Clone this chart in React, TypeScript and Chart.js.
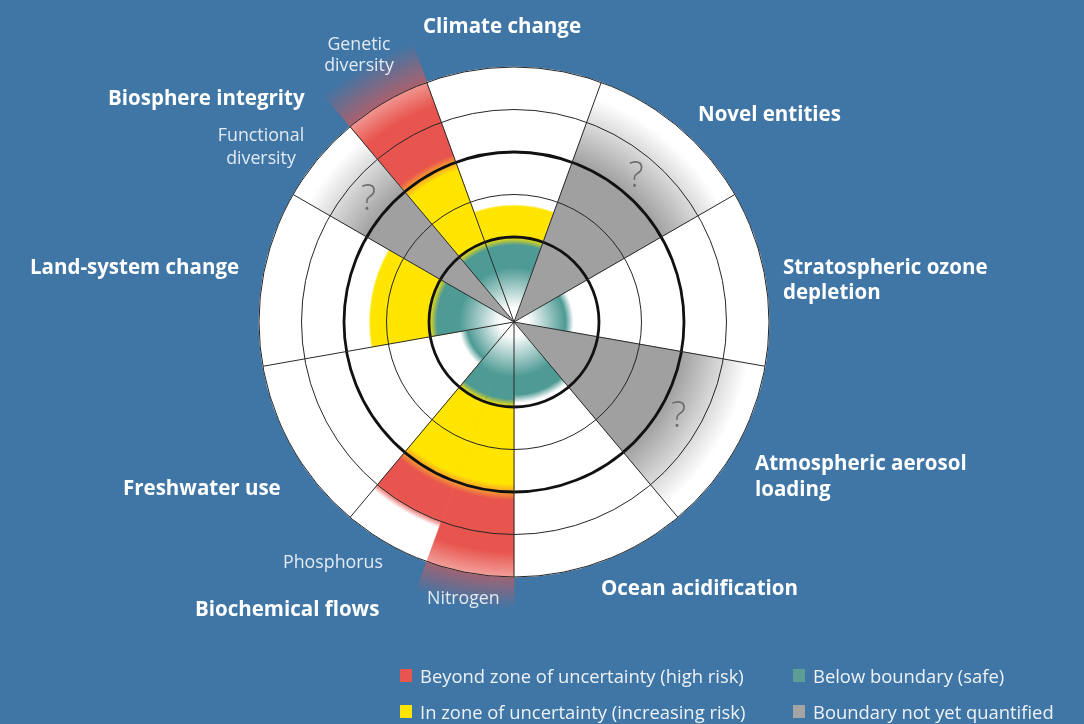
import React, { useEffect, useRef } from "react";
import { Chart, registerables } from "chart.js";

Chart.register(...registerables);

// ---------- data (units: control variable, 2 = boundary, 4 = top of zone of uncertainty) ----------
const categories = [
  "Climate change",
  "Novel entities",
  "Stratospheric ozone depletion",
  "Atmospheric aerosol loading",
  "Ocean acidification",
  "Nitrogen",
  "Phosphorus",
  "Freshwater use",
  "Land-system change",
  "Functional diversity",
  "Genetic diversity",
];
// width of each category in 20-degree slots
const spanSlots = [2, 2, 2, 2, 2, 1, 1, 2, 2, 1, 1];
// divider line at the start of the category
const leadingDivider = [1, 1, 1, 1, 1, 1, 0, 1, 1, 1, 1];
const safeValues = [2, 0, 1.4, 0, 1.9, 2, 2, 1.3, 2, 0, 2];
const uncertaintyValues = [2.75, 0, 0, 0, 0, 4, 4, 0, 3.4, 0, 4];
const highRiskValues = [0, 0, 0, 0, 0, 6.75, 5.15, 0, 0, 0, 7];
const unquantifiedValues = [0, 5.6, 0, 5.6, 0, 0, 0, 0, 0, 5.6, 0];
const ringTicks = [0, 2, 3, 4, 5, 6];
const boundaryRings = [2, 4];
const scaleMax = 6;
const questionMarkValue = 4.47;
const slotDegrees = 20;

// ---------- derived slot table (the radial scale is split in 20-degree slots) ----------
const slotCategory: number[] = categories.flatMap((_, i) => Array(spanSlots[i]).fill(i));
const slotLabels = slotCategory.map((i) => categories[i]);
const firstSlot = categories.map((_, i) => spanSlots.slice(0, i).reduce((a, b) => a + b, 0));
const dividerSlots = firstSlot.filter((_, i) => leadingDivider[i]);

// ---------- styles ----------
const BG = "#3f76a6";
const TEAL = [78, 154, 148];
const YELLOW = [255, 229, 0];
const RED = [232, 85, 78];
const ORANGE = [247, 160, 45];
const GRAY = [160, 160, 160];
const rgba = (c: number[], a: number) => `rgba(${c[0]},${c[1]},${c[2]},${a})`;
const NONE = "rgba(0,0,0,0)";

function radialFill(chart: any, stops: [number, string][]) {
  const s = chart.scales && chart.scales.r;
  if (!s || !s.drawingArea) return NONE;
  const outer = Math.max(1, stops[stops.length - 1][0]);
  const g = chart.ctx.createRadialGradient(s.xCenter, s.yCenter, 0, s.xCenter, s.yCenter, outer);
  let last = 0;
  for (const [r, c] of stops) {
    const p = Math.min(1, Math.max(last, r / outer));
    g.addColorStop(p, c);
    last = p;
  }
  return g;
}

const dist = (chart: any, v: number) => chart.scales.r.getDistanceFromCenterForValue(v);

function tealFill(ctx: any) {
  if (ctx.dataIndex === undefined) return NONE;
  const v = ctx.raw as number;
  if (!v) return NONE;
  const R = dist(ctx.chart, v);
  const fadeStart = Math.max(20, R - 8);
  return radialFill(ctx.chart, [
    [0, "rgba(255,255,255,1)"],
    [14, "rgba(255,255,255,1)"],
    [Math.min(55, fadeStart), rgba(TEAL, 1)],
    [fadeStart, rgba(TEAL, 1)],
    [R, rgba(TEAL, 0)],
  ]);
}

function yellowFill(ctx: any) {
  if (ctx.dataIndex === undefined) return NONE;
  const v = ctx.raw as number;
  if (!v) return NONE;
  const cat = ctx.dataIndex;
  const R = dist(ctx.chart, v);
  if (highRiskValues[cat] > v) {
    return radialFill(ctx.chart, [
      [0, rgba(YELLOW, 1)],
      [R - 8, rgba(YELLOW, 1)],
      [R, rgba(ORANGE, 1)],
    ]);
  }
  return radialFill(ctx.chart, [
    [0, rgba(YELLOW, 1)],
    [R - 1.5, rgba(YELLOW, 1)],
    [R, rgba(YELLOW, 0.6)],
  ]);
}

function redFill(ctx: any) {
  if (ctx.dataIndex === undefined) return NONE;
  const v = ctx.raw as number;
  if (!v) return NONE;
  const cat = ctx.dataIndex;
  const R = dist(ctx.chart, v);
  const Ry = dist(ctx.chart, uncertaintyValues[cat]);
  const solidEnd = Math.max(Ry + 8, Math.min(R - 8, 230));
  return radialFill(ctx.chart, [
    [0, rgba(RED, 1)],
    [Ry, rgba(ORANGE, 1)],
    [Ry + 8, rgba(RED, 1)],
    [solidEnd, rgba(RED, 1)],
    [R, rgba(RED, 0)],
  ]);
}

function grayFill(ctx: any) {
  if (ctx.dataIndex === undefined) return NONE;
  const v = ctx.raw as number;
  if (!v) return NONE;
  const R = dist(ctx.chart, v);
  const solid = dist(ctx.chart, 4);
  return radialFill(ctx.chart, [
    [0, rgba(GRAY, 1)],
    [solid, rgba(GRAY, 1)],
    [R, rgba(GRAY, 0)],
  ]);
}

const questionPlugin = {
  id: "questionMarks",
  afterDraw(chart: any) {
    const s = chart.scales.r;
    const c = chart.ctx;
    const step = (Math.PI * 2) / slotLabels.length;
    c.save();
    c.fillStyle = "#6c6c6c";
    c.font = '300 36px "Open Sans", sans-serif';
    c.textAlign = "center";
    c.textBaseline = "middle";
    categories.forEach((_, i) => {
      if (!unquantifiedValues[i]) return;
      const a = s.getIndexAngle(firstSlot[i]) + (spanSlots[i] * step) / 2 - Math.PI / 2;
      const d = s.getDistanceFromCenterForValue(questionMarkValue);
      c.fillText("?", s.xCenter + Math.cos(a) * d, s.yCenter + Math.sin(a) * d);
    });
    c.restore();
  },
};

type Lbl = { lines: string[]; x: number; y: number; align: "left" | "center"; kind: "main" | "sub"; lh: number };
const labelLayout: Lbl[] = [
  { lines: ["Climate change"], x: 502, y: 25, align: "center", kind: "main", lh: 25 },
  { lines: ["Genetic", "diversity"], x: 359, y: 43, align: "center", kind: "sub", lh: 21 },
  { lines: ["Biosphere integrity"], x: 108, y: 97, align: "left", kind: "main", lh: 25 },
  { lines: ["Functional", "diversity"], x: 261, y: 134, align: "center", kind: "sub", lh: 23 },
  { lines: ["Novel entities"], x: 698, y: 113, align: "left", kind: "main", lh: 25 },
  { lines: ["Stratospheric ozone", "depletion"], x: 783, y: 266, align: "left", kind: "main", lh: 25 },
  { lines: ["Land-system change"], x: 30, y: 266, align: "left", kind: "main", lh: 25 },
  { lines: ["Atmospheric aerosol", "loading"], x: 755, y: 462, align: "left", kind: "main", lh: 26 },
  { lines: ["Freshwater use"], x: 123, y: 487, align: "left", kind: "main", lh: 25 },
  { lines: ["Ocean acidification"], x: 601, y: 587, align: "left", kind: "main", lh: 25 },
  { lines: ["Phosphorus"], x: 283, y: 561, align: "left", kind: "sub", lh: 22 },
  { lines: ["Biochemical flows"], x: 195, y: 608, align: "left", kind: "main", lh: 25 },
  { lines: ["Nitrogen"], x: 427, y: 597, align: "left", kind: "sub", lh: 22 },
];

const legendItems = [
  { color: rgba(RED, 1), text: "Beyond zone of uncertainty (high risk)", x: 400, y: 675 },
  { color: rgba(YELLOW, 1), text: "In zone of uncertainty (increasing risk)", x: 400, y: 711 },
  { color: "#5b9e94", text: "Below boundary (safe)", x: 793, y: 675 },
  { color: "#a4a4a4", text: "Boundary not yet quantified", x: 793, y: 711 },
];

export default function App() {
  const ref = useRef<HTMLCanvasElement>(null);

  useEffect(() => {
    document.body.style.margin = "0";
    const canvas = ref.current!;
    const layer = (label: string, values: number[], fill: any) => ({
      label,
      data: values,
      angle: (c: any) => spanSlots[c.dataIndex] * slotDegrees,
      backgroundColor: fill,
      borderColor: fill,
      borderWidth: 0.6,
      clip: false as any,
    });
    const chart = new Chart(canvas, {
      type: "polarArea",
      data: {
        labels: slotLabels,
        datasets: [
          layer("Below boundary (safe)", safeValues, tealFill),
          layer("Boundary not yet quantified", unquantifiedValues, grayFill),
          layer("In zone of uncertainty (increasing risk)", uncertaintyValues, yellowFill),
          layer("Beyond zone of uncertainty (high risk)", highRiskValues, redFill),
          {
            label: "base",
            data: categories.map(() => scaleMax),
            angle: (c: any) => spanSlots[c.dataIndex] * slotDegrees,
            backgroundColor: "#ffffff",
            borderColor: "#ffffff",
            borderWidth: 1,
            clip: false as any,
          } as any,
        ] as any,
      },
      options: {
        responsive: false,
        animation: false,
        events: [],
        layout: { padding: { left: 259, top: 67, right: 315, bottom: 147 } },
        plugins: { legend: { display: false }, tooltip: { enabled: false } },
        scales: {
          r: {
            min: 0,
            max: scaleMax,
            startAngle: -20,
            afterBuildTicks: (s: any) => {
              s.ticks = ringTicks.map((v) => ({ value: v }));
            },
            ticks: { display: false },
            pointLabels: { display: false },
            grid: {
              z: 1,
              circular: true,
              color: (c: any) => (c.tick && boundaryRings.includes(c.tick.value) ? "#111111" : "#262626"),
              lineWidth: (c: any) => (c.tick && boundaryRings.includes(c.tick.value) ? 2.8 : 1),
            },
            angleLines: {
              display: true,
              color: "#2b2b2b",
              lineWidth: (c: any) => (dividerSlots.includes(c.index) ? 1 : 0),
            },
          } as any,
        },
      },
      plugins: [questionPlugin],
    });
    return () => chart.destroy();
  }, []);

  return (
    <div
      style={{
        position: "relative",
        width: 1084,
        height: 724,
        background: BG,
        overflow: "hidden",
        fontFamily: '"Open Sans", sans-serif',
      }}
    >
      <canvas ref={ref} width={1084} height={724} style={{ position: "absolute", left: 0, top: 0 }} />
      {labelLayout.map((l, i) => (
        <div
          key={i}
          style={{
            position: "absolute",
            left: l.x,
            top: l.y - l.lh / 2,
            transform: l.align === "center" ? "translateX(-50%)" : undefined,
            textAlign: l.align,
            whiteSpace: "nowrap",
            lineHeight: `${l.lh}px`,
            fontSize: l.kind === "main" ? 20.5 : 17.8,
            fontWeight: l.kind === "main" ? 700 : 400,
            color: l.kind === "main" ? "#ffffff" : "#e3eaf2",
          }}
        >
          {l.lines.map((t, j) => (
            <div key={j}>{t}</div>
          ))}
        </div>
      ))}
      {legendItems.map((it, i) => (
        <div
          key={i}
          style={{
            position: "absolute",
            left: it.x,
            top: it.y - 12,
            height: 24,
            display: "flex",
            alignItems: "center",
            whiteSpace: "nowrap",
            fontSize: 18.4,
            color: "#eef2f6",
          }}
        >
          <span style={{ display: "inline-block", width: 12, height: 13, background: it.color, marginRight: 8 }} />
          <span>{it.text}</span>
        </div>
      ))}
    </div>
  );
}
